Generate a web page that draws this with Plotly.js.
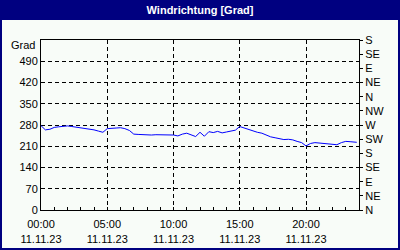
<!DOCTYPE html>
<html><head><meta charset="utf-8">
<script src="https://cdn.plot.ly/plotly-3.0.1.min.js"></script>
<style>html,body{margin:0;padding:0;background:#000080;}#c{width:400px;height:250px;}</style>
</head><body><div id="c"></div>
<script>
const hours = [0,0.33,0.67,1,1.33,1.67,2,2.33,2.67,3,3.33,3.67,4,4.33,4.67,5,5.33,5.67,6,6.33,6.67,7,7.33,7.67,8,8.33,8.67,9,9.33,9.67,10,10.33,10.67,11,11.33,11.67,12,12.33,12.67,13,13.33,13.67,14,14.33,14.67,15,15.33,15.67,16,16.33,16.67,17,17.33,17.67,18,18.33,18.67,19,19.33,19.67,20,20.33,20.67,21,21.33,21.67,22,22.33,22.67,23,23.33,23.67,23.83];
const windDir = [278,264,266,272,274,275,277,275,273,271,268,268,264,260,256,268,270,270,271,268,262,250,249,248,248,247,248,248,247,247,247,244,250,253,248,242,256,243,258,255,259,254,257,261,263,275,270,264,260,256,253,246,241,238,234,232,233,231,226,222,211,219,222,221,219,217,216,215,222,226,225,222,223];
const xTickVals = [0,5,10,15,20];
const xTickText = ['00:00<br>11.11.23','05:00<br>11.11.23','10:00<br>11.11.23','15:00<br>11.11.23','20:00<br>11.11.23'];
const yTickVals = [0,70,140,210,280,350,420,490];
const compassVals = [0,1,2,3,4,5,6,7,8,9,10,11,12];
const compassText = ['N','NE','E','SE','S','SW','W','NW','N','NE','E','SE','S'];

const font = {family:'Liberation Sans, Arial, sans-serif', size:11, color:'#000'};
const L=41,R=41,T=40,B=40,W=400,H=250;
const pw=W-L-R, ph=H-T-B;
const trace = {x:hours, y:windDir, type:'scatter', mode:'lines', line:{color:'#0000ff', width:1}, hoverinfo:'skip'};
const dummy = {x:[0], y:[0], yaxis:'y2', type:'scatter', mode:'markers', marker:{opacity:0}, hoverinfo:'skip'};
const layout = {
  width:W, height:H, margin:{l:L,r:R,t:T,b:B},
  paper_bgcolor:'#000080', plot_bgcolor:'rgba(0,0,0,0)', showlegend:false, font:font,
  title:{text:'<b>Windrichtung [Grad]</b>', font:{family:'Liberation Sans, Arial, sans-serif', size:11, color:'#fff'}, x:0.5, xref:'paper', y:1-10/H, yref:'container', yanchor:'middle', xanchor:'center'},
  xaxis:{range:[0,24], tickmode:'array', tickvals:xTickVals, ticktext:xTickText, showgrid:true, gridcolor:'#000', griddash:'4px,3px', gridwidth:1,
    showline:true, linecolor:'#000', linewidth:1, mirror:true, ticks:'inside', ticklen:3, tickcolor:'#000', zeroline:false, fixedrange:true,
    ticklabelstandoff:4,
    minor:{tickmode:'linear', tick0:0, dtick:1, ticks:'inside', ticklen:3, tickcolor:'#000', showgrid:false}},
  yaxis:{range:[0,560], tickmode:'array', tickvals:yTickVals, showgrid:true, gridcolor:'#000', griddash:'4px,3px', gridwidth:1,
    showline:true, linecolor:'#000', linewidth:1, mirror:true, ticks:'', zeroline:false, fixedrange:true},
  yaxis2:{range:[0,12], overlaying:'y', side:'right', tickmode:'array', tickvals:compassVals, ticktext:compassText, showgrid:false,
    showline:true, linecolor:'#000', ticks:'outside', ticklen:3, tickcolor:'#000', zeroline:false, fixedrange:true},
  shapes:[{type:'rect', xref:'paper', yref:'paper', layer:'below', line:{width:0}, fillcolor:'#f8fcf8',
    x0:(2-L)/pw, x1:(398-L)/pw, y0:(H-B-248)/ph, y1:(H-B-20)/ph}],
  annotations:[{text:'Grad', xref:'paper', yref:'paper', x:0, y:(H-B-45)/ph, xanchor:'right', yanchor:'middle', xshift:-4, showarrow:false, font:font}]
};
Plotly.newPlot('c', [trace, dummy], layout, {staticPlot:true, displayModeBar:false});
</script></body></html>
